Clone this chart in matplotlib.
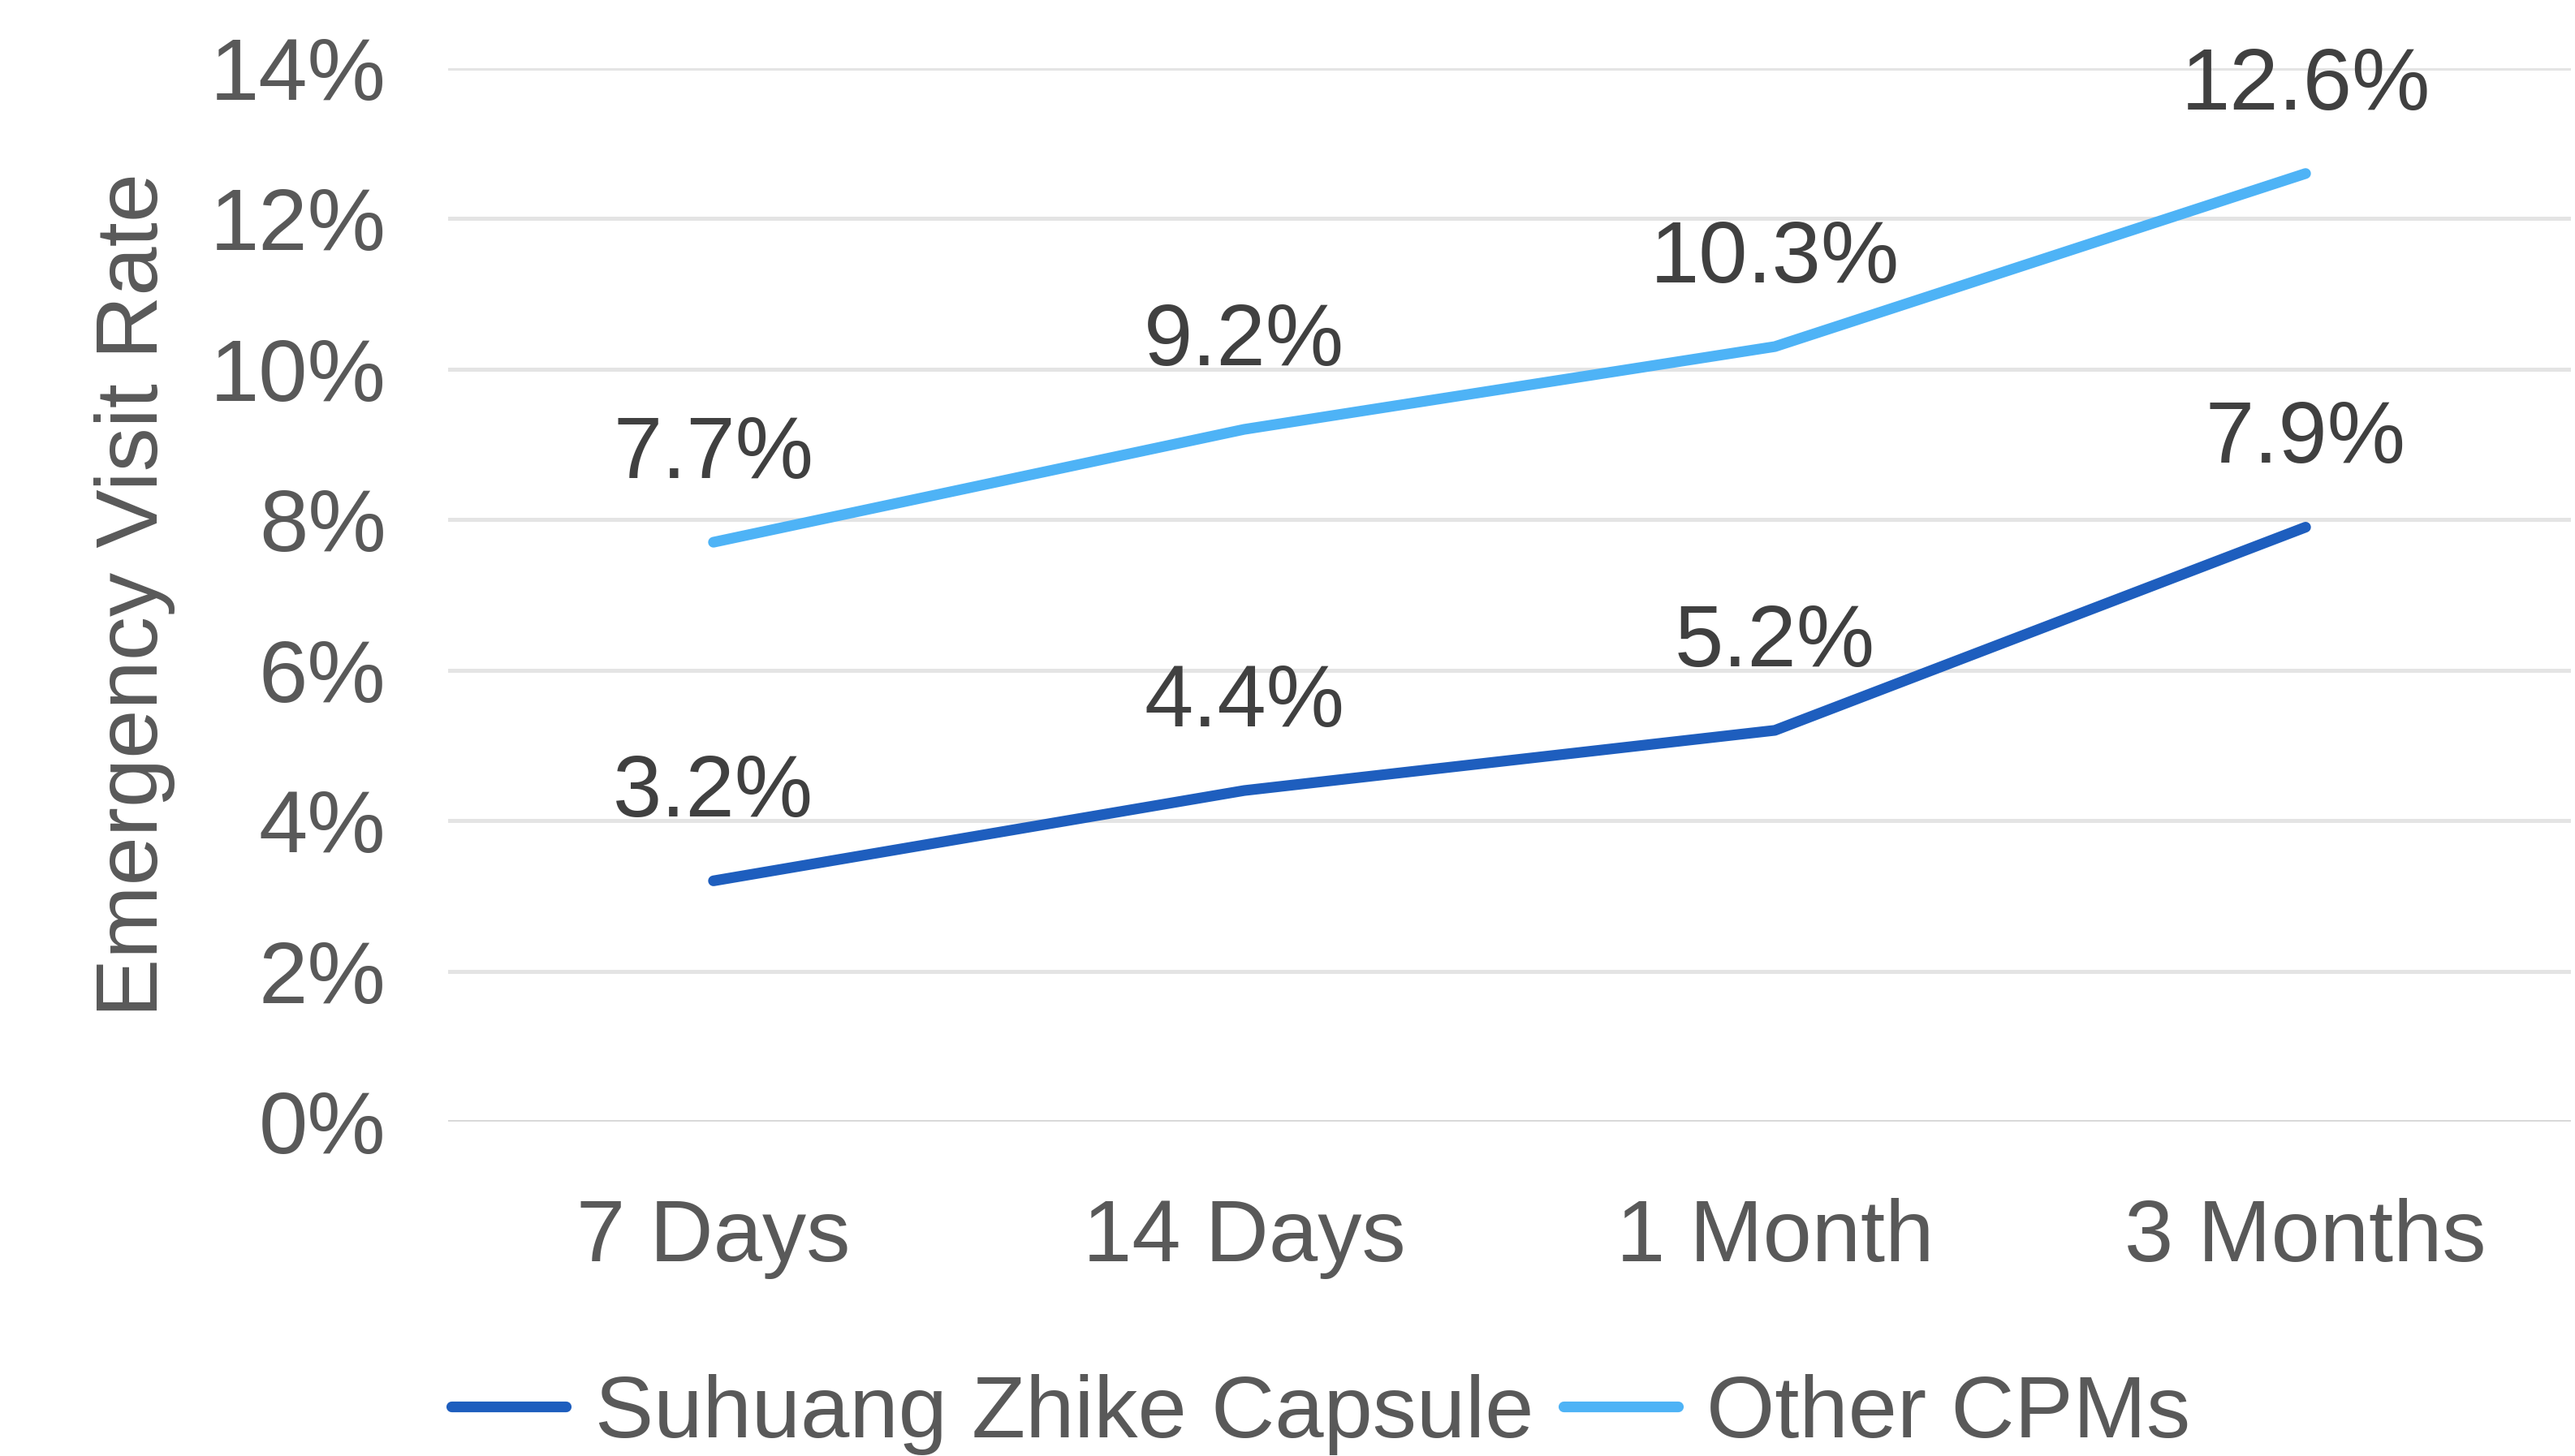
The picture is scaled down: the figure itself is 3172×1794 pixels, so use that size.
import matplotlib
matplotlib.use("Agg")
import matplotlib.pyplot as plt
from matplotlib.ticker import FuncFormatter

plt.rcParams['font.family'] = ['Liberation Sans', 'DejaVu Sans']

# data
periods = ['7 Days', '14 Days', '1 Month', '3 Months']
suhuang = [3.2, 4.4, 5.2, 7.9]
other = [7.7, 9.2, 10.3, 12.6]
series_names = ['Suhuang Zhike Capsule', 'Other CPMs']
y_ticks = [0, 2, 4, 6, 8, 10, 12, 14]

W, H = 3172, 1794
fig = plt.figure(figsize=(W / 100, H / 100), dpi=100)
ax = fig.add_axes([552 / W, 1 - 1382 / H, (3167 - 552) / W, (1382 - 84) / H])

fs = 78
dark = '#1E5EBE'
light = '#4EB3F6'
x = list(range(len(periods)))

ax.plot(x, suhuang, color=dark, lw=9.5, solid_capstyle='round', label=series_names[0])
ax.plot(x, other, color=light, lw=9.5, solid_capstyle='round', label=series_names[1])

# labels above each point
for xs, ys in [(x, suhuang), (x, other)]:
    for xi, yi in zip(xs, ys):
        ax.annotate(f'{yi:.1f}%', (xi, yi), xytext=(0, 57), textcoords='offset points',
                    ha='center', va='baseline', fontsize=fs, color='#404040')

ax.set_xlim(-0.5, 3.5)
ax.set_ylim(0, 14)
ax.set_yticks(y_ticks)
ax.yaxis.set_major_formatter(FuncFormatter(lambda v, p: f'{v:.0f}%'))
ax.set_xticks(x)
ax.set_xticklabels(periods)
ax.tick_params(axis='both', length=0, labelsize=fs, labelcolor='#595959')
ax.tick_params(axis='y', pad=55)
ax.tick_params(axis='x', pad=68)

for sp in ax.spines.values():
    sp.set_visible(False)
ax.grid(axis='y', color='#E4E4E4', lw=3.6)
ax.axhline(0, color='#D9D9D9', lw=3.6)
ax.set_axisbelow(True)

ax.set_ylabel('Emergency Visit Rate', fontsize=fs, color='#595959', labelpad=31)

fig.legend(loc='lower left', bbox_to_anchor=(556 / W, 1 / H), ncol=2, frameon=False,
           fontsize=fs, labelcolor='#595959', borderpad=0, borderaxespad=0,
           handlelength=1.3, handletextpad=0.33, columnspacing=0.34)

fig.savefig('out.png', dpi=100)
